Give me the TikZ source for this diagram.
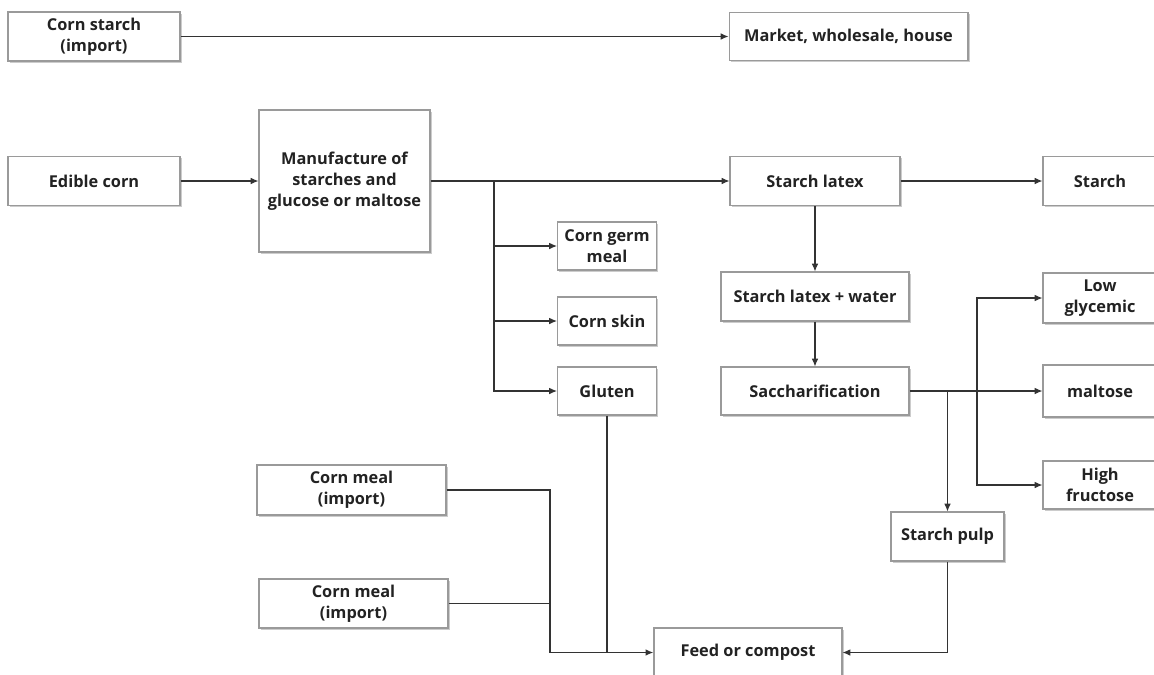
\documentclass[tikz,border=0pt]{standalone}
\usepackage{fontspec}
\setmainfont{Open Sans}
\usetikzlibrary{arrows.meta, shadows, calc}

\definecolor{boxline}{HTML}{9A9A9A}
\definecolor{linkline}{HTML}{333333}
\definecolor{boxtext}{HTML}{222222}

\tikzset{
  box/.style={draw=boxline, line width=0.6pt, fill=white, align=center, inner sep=2pt,
    font=\bfseries\fontsize{9.3}{11.8}\selectfont, text=boxtext,
    drop shadow={shadow xshift=0.9pt, shadow yshift=-0.9pt, fill=black!40, opacity=0.5}},
  link/.style={draw=linkline, line width=0.6pt},
  tip/.style={-{Latex[length=4.5pt,width=3.8pt]}}
}

\begin{document}
\begin{tikzpicture}[x=0.02cm, y=-0.02cm]
	\useasboundingbox (0,0) rectangle (1154,674);
	\clip (0,0) rectangle (1154,674);
	\begin{scope}
		% top row
		\node[box, minimum width=3.44cm, minimum height=0.98cm] (cs) at (94,36.5) {Corn starch\\(import)};
		\node[box, minimum width=4.78cm, minimum height=0.96cm] (mkt) at (848.5,36.5) {Market, wholesale, house};
		
		% main line
		\node[box, minimum width=3.44cm, minimum height=0.98cm] (edc) at (94,181) {Edible corn};
		\node[box, minimum width=3.42cm, minimum height=2.84cm] (man) at (344.5,181) {Manufacture of\\starches and\\glucose or maltose};
		\node[box, minimum width=3.40cm, minimum height=0.98cm] (lat) at (815,181) {Starch latex};
		\node[box, minimum width=2.28cm, minimum height=0.98cm] (sta) at (1100,181) {Starch};
		
		% by-products
		\node[box, minimum width=1.98cm, minimum height=0.96cm] (germ) at (607,246) {Corn germ\\meal};
		\node[box, minimum width=1.98cm, minimum height=0.96cm] (skin) at (607,321) {Corn skin};
		\node[box, minimum width=1.98cm, minimum height=0.96cm] (glu) at (607,391) {Gluten};
		
		% sugar line
		\node[box, minimum width=3.76cm, minimum height=0.98cm] (latw) at (815,296.5) {Starch latex + water};
		\node[box, minimum width=3.76cm, minimum height=0.96cm] (sac) at (815,391) {Saccharification};
		\node[box, minimum width=2.28cm, minimum height=1.00cm] (low) at (1100,298) {Low\\glycemic};
		\node[box, minimum width=2.28cm, minimum height=1.04cm] (mal) at (1100,391) {maltose};
		\node[box, minimum width=2.28cm, minimum height=0.96cm] (hfr) at (1100,485) {High\\fructose};
		\node[box, minimum width=2.26cm, minimum height=0.98cm] (pulp) at (947.5,536.5) {Starch pulp};
		
		% feed
		\node[box, minimum width=3.78cm, minimum height=1.00cm] (cm1) at (351.5,490) {Corn meal\\(import)};
		\node[box, minimum width=3.78cm, minimum height=0.98cm] (cm2) at (353.5,603.5) {Corn meal\\(import)};
		\node[box, minimum width=3.76cm, minimum height=0.98cm] (feed) at (748,652.5) {Feed or compost};
		
		\coordinate (mb) at (494,181);
		\coordinate (sb) at (977,391);
		\coordinate (pb) at (947.5,391);
		\coordinate (fj) at (550,652.5);
		
		\draw[link,tip] (cs) -- (mkt);
		\draw[link,tip] (edc) -- (man);
		\draw[link,tip] (man) -- (lat);
		\draw[link,tip] (lat) -- (sta);
		
		\draw[link,tip] (mb) |- (germ);
		\draw[link,tip] (mb) |- (skin);
		\draw[link,tip] (mb) |- (glu);
		
		\draw[link,tip] (lat) -- (latw);
		\draw[link,tip] (latw) -- (sac);
		\draw[link,tip] (sac) -- (mal);
		\draw[link,tip] (sb) |- (low);
		\draw[link,tip] (sb) |- (hfr);
		\draw[link,tip] (pb) -- (pulp);
		
		\draw[link,tip] (pulp) |- (feed);
		\draw[link] (cm1) -| (fj);
		\draw[link] (cm2) -| (fj);
		\draw[link] (glu) -- (glu |- feed);
		\draw[link,tip,line width=0.9pt] (fj) -- (feed);
	\end{scope}
\end{tikzpicture}
\end{document}
